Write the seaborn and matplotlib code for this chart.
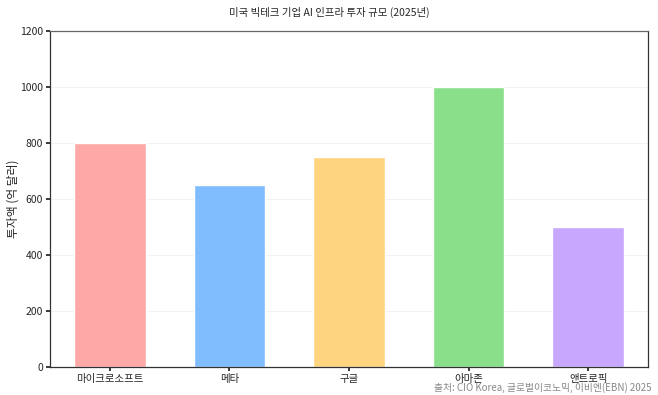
import matplotlib
matplotlib.use("Agg")
import matplotlib.pyplot as plt
import seaborn as sns
import pandas as pd

companies = ["마이크로소프트", "메타", "구글", "아마존", "앤트로픽"]
investment = [800, 650, 750, 1000, 500]
colors = ["#FFA8A8", "#7FBDFF", "#FFD47F", "#8AE08A", "#C8A8FF"]
title = "미국 빅테크 기업 AI 인프라 투자 규모 (2025년)"
ylabel = "투자액 (억 달러)"
source = "출처: CIO Korea, 글로벌이코노믹, 이비엔(EBN) 2025"

sns.set_theme(style="white")
plt.rcParams['font.family'] = ['Noto Sans CJK KR', 'DejaVu Sans']

df = pd.DataFrame({"company": companies, "value": investment})

fig = plt.figure(figsize=(6.58, 3.95), dpi=100)
ax = fig.add_axes([50/658, 1-367/395, (648-50)/658, (367-31)/395])
sns.barplot(data=df, x="company", y="value", hue="company", palette=colors,
            width=0.6, legend=False, ax=ax, saturation=1)
ax.set_ylim(0, 1200)
ax.set_yticks([0, 200, 400, 600, 800, 1000, 1200])
ax.yaxis.grid(True, color="#f0f0f0", linewidth=0.6)
ax.set_axisbelow(True)
for s in ax.spines.values():
    s.set_color("#333333")
    s.set_linewidth(0.9)
ax.spines["top"].set_color("#666666")
ax.tick_params(axis="both", labelsize=7.5, length=3, color="#222222", direction="out",
               left=True, bottom=True, pad=2)
ax.set_xlabel("")
ax.set_ylabel(ylabel, fontsize=8.5)
ax.yaxis.set_label_coords(-30/598, 0.5)
fig.text(0.5, 1 - 12/395, title, ha="center", va="center", fontsize=7.5)
fig.text(652/658, 2/395, source, ha="right", va="bottom", fontsize=7, color="#888888")
fig.savefig("out.png", dpi=100)
